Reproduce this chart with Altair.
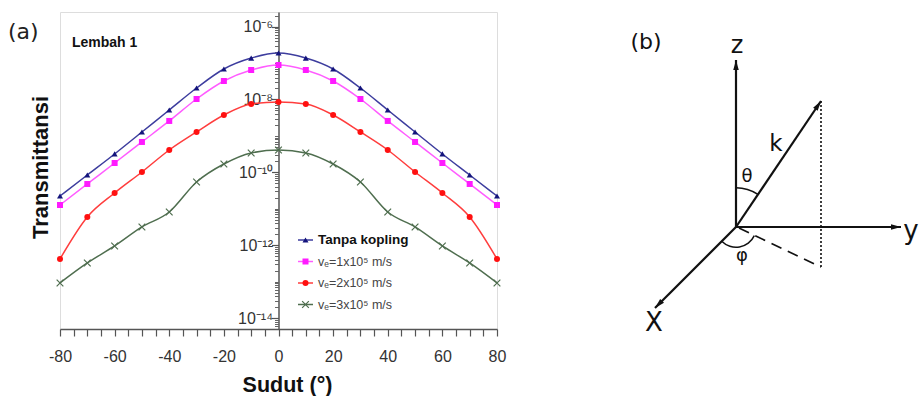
import math
import altair as alt
import pandas as pd

# ---------------- panel (a) data ----------------
ANGLES = [-80, -70, -60, -50, -40, -30, -20, -10, 0, 10, 20, 30, 40, 50, 60, 70, 80]
SERIES = ["Tanpa kopling", "vₑ=1x10⁵ m/s", "vₑ=2x10⁵ m/s", "vₑ=3x10⁵ m/s"]
T_TANPA = [2.24e-11, 8.45e-11, 3.19e-10, 1.28e-9, 5.14e-9, 2.06e-8, 6.86e-8, 1.37e-7, 1.88e-7,
           1.37e-7, 6.86e-8, 2.06e-8, 5.14e-9, 1.28e-9, 3.19e-10, 8.45e-11, 2.24e-11]
T_VE1 = [1.27e-11, 4.79e-11, 1.80e-10, 6.81e-10, 2.57e-9, 1.03e-8, 3.21e-8, 6.43e-8, 8.83e-8,
         6.43e-8, 3.21e-8, 1.03e-8, 2.57e-9, 6.81e-10, 1.80e-10, 4.79e-11, 1.27e-11]
T_VE2 = [4.19e-13, 5.95e-12, 2.71e-11, 1.02e-10, 4.10e-10, 1.28e-9, 3.74e-9, 7.50e-9, 8.51e-9,
         7.50e-9, 3.74e-9, 1.28e-9, 4.10e-10, 1.02e-10, 2.71e-11, 5.95e-12, 4.19e-13]
T_VE3 = [9.19e-14, 3.25e-13, 9.52e-13, 3.16e-12, 8.16e-12, 5.43e-11, 1.69e-10, 3.40e-10, 4.10e-10,
         3.40e-10, 1.69e-10, 5.43e-11, 8.16e-12, 3.16e-12, 9.52e-13, 3.25e-13, 9.19e-14]
Y_MAJOR = [1e-14, 1e-12, 1e-10, 1e-8, 1e-6]
X_TICKS = list(range(-80, 81, 5))

LINE_COLORS = ["#3d3d9e", "#ff5cff", "#ff3d3d", "#4f6e4f"]
MARKER_COLORS = ["#14147c", "#ff1aff", "#ff1010", "#4f6e4f"]
SHAPES = ["triangle-up", "square", "circle"]
CROSS = "M-1,-1L1,1M-1,1L1,-1"

rows = []
for name, vals in zip(SERIES, [T_TANPA, T_VE1, T_VE2, T_VE3]):
    for a, v in zip(ANGLES, vals):
        rows.append({"angle": a, "T": v, "series": name})
df = pd.DataFrame(rows)

SUP = {"-": "⁻", "0": "⁰", "1": "¹", "2": "²", "3": "³", "4": "⁴",
       "5": "⁵", "6": "⁶", "7": "⁷", "8": "⁸", "9": "⁹"}


def sup_label(v):
    e = str(int(round(math.log10(v))))
    return "10" + "".join(SUP[c] for c in e)


label_expr = ""
for v in Y_MAJOR:
    label_expr += f"datum.value < {v * 3:.3g} ? '{sup_label(v)}' : "
label_expr += "''"

Y_MINOR = []
for k in range(-15, -5):
    for m in range(1, 10):
        v = m * 10.0 ** k
        if m == 1 and k % 2 == 0:
            continue
        if 10 ** -14.3 <= v <= 10 ** -5.6:
            Y_MINOR.append(v)

x_scale = alt.Scale(domain=[-80, 80], nice=False, zero=False)
y_scale = alt.Scale(type="log", domain=[10 ** -14.3, 10 ** -5.6], nice=False)

x_axis = alt.Axis(values=X_TICKS,
                  labelExpr="datum.value % 20 === 0 ? '' + datum.value : ''",
                  labelOverlap=False, labelFlush=False, labelFontSize=16, labelColor="#333",
                  labelPadding=12, tickSize=7, tickColor="#555", tickWidth=1.2,
                  domainColor="#555", domainWidth=1.5, grid=False,
                  title="Sudut (°)", titleFontSize=21.5, titleFontWeight="bold",
                  titleColor="#111", titleX=227, titleY=62, titleAlign="center",
                  titleBaseline="alphabetic")
X = alt.X("angle:Q", scale=x_scale, axis=x_axis)

y_major_axis = alt.Axis(values=Y_MAJOR, labelExpr=label_expr, orient="left",
                        offset=-218.5, tickSize=7, tickColor="#555", tickWidth=1.2,
                        labelPadding=-1, labelFontSize=16, labelColor="#333",
                        labelOverlap=False, labelFlush=False, domainColor="#555", domainWidth=1.5,
                        grid=False, title="Transmittansi", titleFontSize=22,
                        titleFontWeight="bold", titleColor="#111",
                        titleX=-238.5, titleY=155, titleAngle=270,
                        titleAlign="center", titleBaseline="middle")
y_minor_axis = alt.Axis(values=Y_MINOR, orient="left", offset=-218.5, tickSize=4,
                        tickColor="#666", tickWidth=1, labels=False, domain=False,
                        grid=False, title=None)

stroke_enc = alt.Stroke("series:N", scale=alt.Scale(domain=SERIES, range=LINE_COLORS), legend=None)

lines = alt.Chart(df).mark_line(interpolate="monotone", strokeWidth=1.5).encode(
    x=X, y=alt.Y("T:Q", scale=y_scale, axis=y_major_axis), stroke=stroke_enc,
    detail="series:N")

minor = alt.Chart(df).mark_point(opacity=0).encode(
    x=X, y=alt.Y("T:Q", scale=y_scale, axis=y_minor_axis))

pts = alt.Chart(df).transform_filter(
    alt.FieldOneOfPredicate(field="series", oneOf=SERIES[:3])
).mark_point(filled=True, size=36, opacity=1).encode(
    x=X, y=alt.Y("T:Q", scale=y_scale, axis=None),
    fill=alt.Fill("series:N", scale=alt.Scale(domain=SERIES[:3], range=MARKER_COLORS[:3]), legend=None),
    shape=alt.Shape("series:N", scale=alt.Scale(domain=SERIES[:3], range=SHAPES), legend=None))

crosses = alt.Chart(df).transform_filter(
    alt.FieldEqualPredicate(field="series", equal=SERIES[3])
).mark_point(shape=CROSS, filled=False, size=45, strokeWidth=1.2, opacity=1).encode(
    x=X, y=alt.Y("T:Q", scale=y_scale, axis=None), stroke=stroke_enc)

base_txt = alt.Chart(pd.DataFrame({"t": [0]}))
label_a = base_txt.mark_text(text="(a)", fontSize=22, align="left", baseline="middle",
                             color="#222", font="DejaVu Sans").encode(
    x=alt.value(-52), y=alt.value(20))
lembah = base_txt.mark_text(text="Lembah 1", fontSize=14, fontWeight="bold", align="left",
                            baseline="middle", color="#111", font="Liberation Sans").encode(
    x=alt.value(12), y=alt.value(31))

legend_layers = []
for i, name in enumerate(SERIES):
    ly = 228 + 21.5 * i
    legend_layers.append(base_txt.mark_rule(color=LINE_COLORS[i], strokeWidth=1.5).encode(
        x=alt.value(238), x2=alt.value(253), y=alt.value(ly)))
    if i < 3:
        legend_layers.append(base_txt.mark_point(shape=SHAPES[i], filled=True, size=36,
                                                 color=MARKER_COLORS[i], opacity=1).encode(
            x=alt.value(245.5), y=alt.value(ly)))
    else:
        legend_layers.append(base_txt.mark_point(shape=CROSS, filled=False, size=45,
                                                 strokeWidth=1.2, color=MARKER_COLORS[i],
                                                 opacity=1).encode(
            x=alt.value(245.5), y=alt.value(ly)))
    legend_layers.append(base_txt.mark_text(
        text=name, fontSize=13.5 if i == 0 else 12.5, fontWeight="bold" if i == 0 else "normal",
        align="left", baseline="middle", color="#111" if i == 0 else "#444",
        font="Liberation Sans").encode(x=alt.value(258), y=alt.value(ly)))

panel_a = alt.layer(lines, minor, pts, crosses, label_a, lembah, *legend_layers).resolve_axis(
    y="independent")

# ---------------- panel (b): coordinate diagram (page pixel coordinates) ----------------
ORIGIN = (736, 227)
Z_TIP = (736, 60)
Y_TIP = (901, 227)
X_TIP = (655, 308)
K_TIP = (821, 101)
FOOT = (821, 267)

bx = alt.Scale(domain=[0, 919], range=[-60, 859], nice=False, zero=False)
by = alt.Scale(domain=[0, 396], range=[-12, 384], nice=False, zero=False)

solid_df = pd.DataFrame({
    "x1": [ORIGIN[0]] * 4, "y1": [ORIGIN[1]] * 4,
    "x2": [Z_TIP[0], Y_TIP[0], X_TIP[0], K_TIP[0]],
    "y2": [Z_TIP[1], Y_TIP[1], X_TIP[1], K_TIP[1]],
})
dotted_df = pd.DataFrame({"x1": [K_TIP[0]], "y1": [K_TIP[1]], "x2": [FOOT[0]], "y2": [FOOT[1]]})
dashed_df = pd.DataFrame({"x1": [ORIGIN[0] + 3], "y1": [ORIGIN[1] + 1], "x2": [FOOT[0]], "y2": [FOOT[1]]})


def seg_enc(ch):
    return ch.encode(x=alt.X("x1:Q", scale=bx, axis=None), y=alt.Y("y1:Q", scale=by, axis=None),
                     x2="x2:Q", y2="y2:Q")


solid = seg_enc(alt.Chart(solid_df).mark_rule(color="#111", strokeWidth=2.2))
dotted = seg_enc(alt.Chart(dotted_df).mark_rule(color="#111", strokeWidth=1.6, strokeDash=[2, 2]))
dashed = seg_enc(alt.Chart(dashed_df).mark_rule(color="#111", strokeWidth=1.7, strokeDash=[11, 7]))

heads = []
for tip in [Z_TIP, Y_TIP, X_TIP, K_TIP]:
    dx, dy = tip[0] - ORIGIN[0], tip[1] - ORIGIN[1]
    L = math.hypot(dx, dy)
    heads.append({"hx": tip[0] - 5 * dx / L, "hy": tip[1] - 5 * dy / L,
                  "ang": (math.degrees(math.atan2(dx, -dy)) + 360) % 360})
heads_df = pd.DataFrame(heads)
arrow = alt.Chart(heads_df).mark_point(shape="M0,-1L0.55,1L-0.55,1Z", filled=True, size=100,
                                       color="#111", opacity=1).encode(
    x=alt.X("hx:Q", scale=bx, axis=None), y=alt.Y("hy:Q", scale=by, axis=None),
    angle=alt.Angle("ang:Q", scale=None))

k_ang = math.atan2(K_TIP[0] - ORIGIN[0], -(K_TIP[1] - ORIGIN[1]))
f_ang = math.atan2(FOOT[0] - ORIGIN[0], -(FOOT[1] - ORIGIN[1]))
x_ang = math.atan2(X_TIP[0] - ORIGIN[0], -(X_TIP[1] - ORIGIN[1])) % (2 * math.pi)
origin_df = pd.DataFrame({"ox": [ORIGIN[0]], "oy": [ORIGIN[1]]})
arc_theta = alt.Chart(origin_df).mark_arc(radius=40, radius2=38.5, theta=0, theta2=k_ang,
                                          color="#111").encode(
    x=alt.X("ox:Q", scale=bx, axis=None), y=alt.Y("oy:Q", scale=by, axis=None))
arc_phi = alt.Chart(origin_df).mark_arc(radius=21, radius2=19.5, theta=f_ang, theta2=x_ang,
                                        color="#111").encode(
    x=alt.X("ox:Q", scale=bx, axis=None), y=alt.Y("oy:Q", scale=by, axis=None))

B_LABELS = ["(b)", "z", "y", "X", "k", "θ", "φ"]
B_LX = [646, 737, 911, 654, 776, 747, 742]
B_LY = [42, 46, 231, 323, 144, 177, 256]
B_SIZE = [22, 24, 26, 26, 23, 18, 18]
blab_df = pd.DataFrame({"lab": B_LABELS, "lx": B_LX, "ly": B_LY, "fs": B_SIZE})
blabels = alt.Chart(blab_df).mark_text(align="center", baseline="middle", color="#111",
                                       font="DejaVu Sans").encode(
    x=alt.X("lx:Q", scale=bx, axis=None), y=alt.Y("ly:Q", scale=by, axis=None),
    text="lab:N", size=alt.Size("fs:Q", scale=None))

panel_b = alt.layer(solid, dotted, dashed, arrow, arc_theta, arc_phi, blabels)

chart = alt.layer(panel_a, panel_b).resolve_scale(
    x="independent", y="independent", stroke="independent", fill="independent", shape="independent"
).properties(
    width=437, height=317,
    padding={"left": 8, "top": 12, "right": 0, "bottom": 0},
    background="white",
).configure_view(stroke="#8a8a8a", strokeWidth=1.5).configure(font="Liberation Sans")

chart.save("out.html", embed_options={"renderer": "svg", "actions": False})
